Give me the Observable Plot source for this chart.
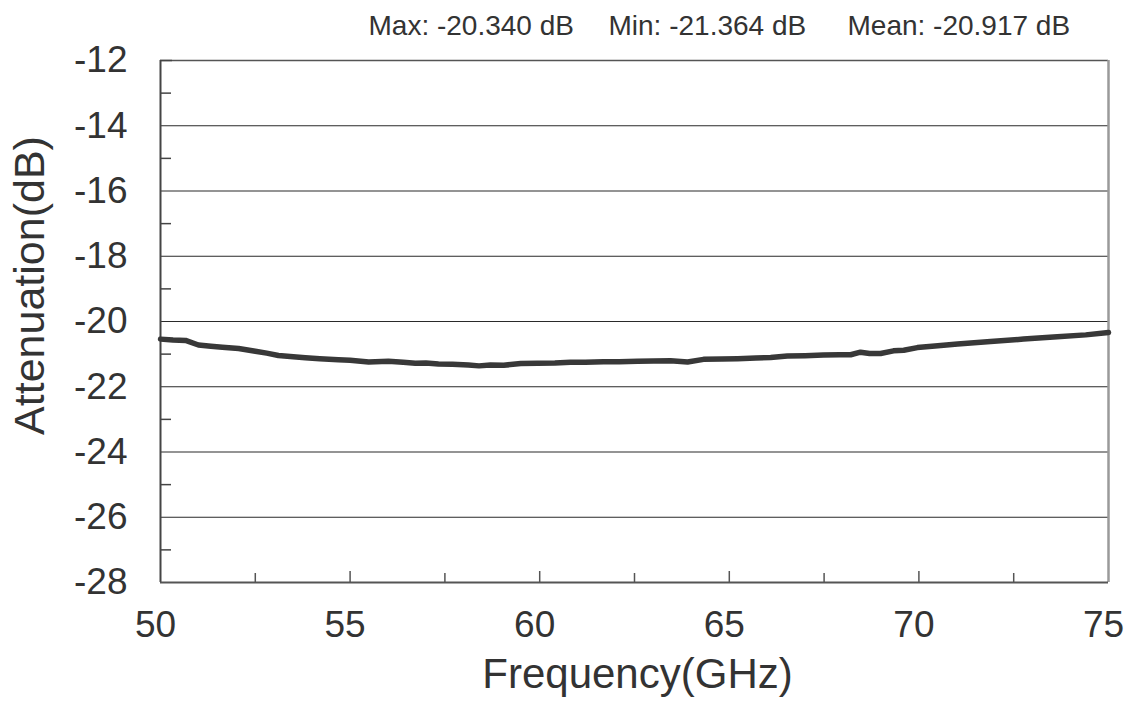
<!DOCTYPE html>
<html>
<head>
<meta charset="utf-8">
<script src="https://cdn.jsdelivr.net/npm/d3@7"></script>
<script src="https://cdn.jsdelivr.net/npm/@observablehq/plot@0.6"></script>
<style>
  html, body { margin: 0; padding: 0; background: #fff; }
  #chart svg { display: block; }
</style>
</head>
<body>
<div id="chart"></div>
<script>
const freq = [50, 50.33, 50.66, 51.0, 51.33, 51.63, 52.06, 52.5, 52.8, 53.11, 53.5, 53.82, 54.2, 54.69, 55.0, 55.49, 56.01, 56.4, 56.72, 57.0, 57.33, 57.7, 58.12, 58.4, 58.7, 59.05, 59.5, 59.94, 60.4, 60.81, 61.2, 61.68, 62.1, 62.58, 63.0, 63.45, 63.9, 64.32, 64.8, 65.22, 65.7, 66.09, 66.53, 67.0, 67.48, 67.9, 68.2, 68.46, 68.7, 68.99, 69.33, 69.6, 69.96, 70.5, 71.02, 71.89, 72.76, 73.65, 74.4, 75];
const atten = [-20.54, -20.57, -20.58, -20.72, -20.76, -20.79, -20.83, -20.91, -20.97, -21.04, -21.08, -21.11, -21.14, -21.17, -21.19, -21.24, -21.22, -21.25, -21.28, -21.27, -21.30, -21.31, -21.33, -21.36, -21.33, -21.34, -21.29, -21.28, -21.27, -21.25, -21.25, -21.23, -21.23, -21.22, -21.21, -21.20, -21.24, -21.16, -21.15, -21.14, -21.12, -21.10, -21.06, -21.05, -21.03, -21.02, -21.02, -20.94, -20.98, -20.98, -20.90, -20.88, -20.80, -20.74, -20.69, -20.61, -20.54, -20.47, -20.41, -20.34];

const yTicks = [-12, -14, -16, -18, -20, -22, -24, -26, -28];
const yMinor = [-13, -15, -17, -19, -21, -23, -25, -27];
const yGrid = [-14, -16, -18, -20, -22, -24, -26];
const xTicks = [50, 55, 60, 65, 70, 75];
const xMinor = [52.5, 57.5, 62.5, 67.5, 72.5];
const stats = ["Max: -20.340 dB", "Min: -21.364 dB", "Mean: -20.917 dB"];
const xTitle = "Frequency(GHz)";
const yTitle = "Attenuation(dB)";

const data = freq.map((f, i) => ({f, a: atten[i]}));
const ink = "#333";
const font = "'Liberation Sans', Arial, sans-serif";

const chart = Plot.plot({
  width: 1124,
  height: 705,
  marginLeft: 160,
  marginRight: 16,
  marginTop: 60,
  marginBottom: 123,
  style: {fontFamily: font, color: ink, background: "#fff"},
  x: {domain: [50, 75], axis: null},
  y: {domain: [-28, -12], axis: null},
  marks: [
    Plot.ruleY(yGrid, {stroke: "#2a2a2a", strokeWidth: 1.2}),
    Plot.ruleY([-12], {stroke: "#555", strokeWidth: 1.5}),
    Plot.ruleX([75], {stroke: "#9a9a9a", strokeWidth: 2.5}),
    // inward minor/major ticks
    Plot.axisY(yMinor, {anchor: "left", tickSize: -11, tickFormat: () => "", label: null, stroke: "#444", strokeWidth: 1.5}),
    Plot.axisY([-12], {anchor: "left", tickSize: -12, tickFormat: () => "", label: null, stroke: "#444", strokeWidth: 1.5}),
    Plot.axisX(xTicks.slice(1, -1), {anchor: "bottom", tickSize: -11, tickFormat: () => "", label: null, stroke: "#555", strokeWidth: 1.5}),
    Plot.axisX(xMinor, {anchor: "bottom", tickSize: -9, tickFormat: () => "", label: null, stroke: "#555", strokeWidth: 1.5}),
    // tick labels
    Plot.axisY(yTicks, {anchor: "left", tickSize: 0, tickPadding: 33, tickFormat: d => String(d), label: null, fontSize: 37, fill: ink}),
    Plot.axisX(xTicks, {anchor: "bottom", tickSize: 0, tickPadding: 28, tickFormat: d => String(d), label: null, fontSize: 37, fill: ink, dx: -5}),
    // axis lines
    Plot.ruleX([50], {stroke: "#444", strokeWidth: 2}),
    Plot.ruleY([-28], {stroke: "#555", strokeWidth: 2}),
    // data
    Plot.line(data, {x: "f", y: "a", stroke: "#383838", strokeWidth: 5.5, strokeLinejoin: "round", curve: "linear"}),
    // titles
    Plot.text([xTitle], {frameAnchor: "bottom", lineAnchor: "bottom", dy: 105, dx: 3, fontSize: 42, fill: ink}),
    Plot.text([yTitle], {frameAnchor: "left", textAnchor: "middle", lineAnchor: "bottom", rotate: -90, dx: -117, dy: -36, fontSize: 43, fill: ink}),
    // statistics header
    Plot.text([stats[0]], {frameAnchor: "top-left", textAnchor: "start", lineAnchor: "bottom", dx: 208, dy: -26, fontSize: 28, fill: ink}),
    Plot.text([stats[1]], {frameAnchor: "top-left", textAnchor: "start", lineAnchor: "bottom", dx: 448, dy: -26, fontSize: 28, fill: ink}),
    Plot.text([stats[2]], {frameAnchor: "top-left", textAnchor: "start", lineAnchor: "bottom", dx: 687, dy: -26, fontSize: 28, fill: ink})
  ]
});
document.getElementById("chart").appendChild(chart);
</script>
</body>
</html>
